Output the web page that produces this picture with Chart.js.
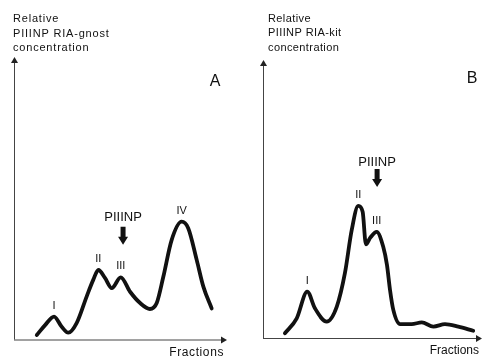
<!DOCTYPE html>
<html>
<head>
<meta charset="utf-8">
<script src="https://cdn.jsdelivr.net/npm/chart.js@4.4.0/dist/chart.umd.min.js"></script>
<style>
  html, body { margin: 0; padding: 0; background: #fff; }
  #wrap { position: relative; width: 483px; height: 356px; }
  .panel { position: absolute; top: 0; height: 356px; }
  #panelA { left: 0; width: 240px; }
  #panelB { left: 240px; width: 243px; }
</style>
</head>
<body>
<div id="wrap">
  <div class="panel" id="panelA"><canvas id="chartA"></canvas></div>
  <div class="panel" id="panelB"><canvas id="chartB"></canvas></div>
</div>
<script>
  // Panel A - RIA-gnost elution profile (x: fraction position 0-100, y: relative conc. 0-100)
  const fractionsA = [10.7, 14.6, 18.8, 22.4, 25.5, 29.4, 34.1, 37.2, 39.6, 42.7, 45.9, 50.1, 54.5, 59.2, 63.8, 67.0, 70.1, 74.0, 78.7, 81.8, 85.8, 88.9, 92.8];
  const concA      = [1.6, 5.1, 8.1, 4.5, 2.4, 5.8, 15.2, 21.1, 24.6, 21.8, 18.2, 22.0, 16.9, 12.9, 10.8, 12.9, 22.2, 35.2, 41.7, 39.4, 28.1, 18.7, 11.0];
  const peakNamesA = ['I', 'II', 'III', 'IV'];
  const peakIdxA   = [2, 8, 11, 18];
  const markerA    = { x: 51.2, y: 33.5 };

  // Panel B - RIA-kit elution profile
  const fractionsB = [10.0, 15.4, 20.2, 23.7, 29.1, 33.7, 37.4, 40.5, 43.5, 45.5, 47.0, 48.9, 51.9, 54.9, 56.6, 58.0, 59.5, 62.6, 67.9, 72.5, 77.8, 83.1, 89.2, 96.0];
  const concB      = [1.7, 7.1, 16.7, 10.7, 5.9, 11.3, 23.3, 38.8, 47.5, 45.4, 33.7, 36.0, 38.2, 32.8, 26.3, 17.3, 10.1, 5.0, 5.0, 5.6, 4.1, 5.0, 4.1, 2.6];
  const peakNamesB = ['I', 'II', 'III'];
  const peakIdxB   = [2, 8, 12];
  const markerB    = { x: 52.1, y: 54.3 };

  const titleA = ['Relative', 'PIIINP RIA-gnost', 'concentration'];
  const titleB = ['Relative', 'PIIINP RIA-kit', 'concentration'];

  const FONT = '"Liberation Sans", Arial, Helvetica, sans-serif';
  const INK = '#111';

  // draws axes with arrowheads, labels, peak numerals and the PIIINP marker
  const figureDecor = {
    id: 'figureDecor',
    afterDatasetsDraw(chart, args, opts) {
      const { ctx, chartArea: a, scales } = chart;
      const xs = scales.x, ys = scales.y;
      ctx.save();

      // axes
      ctx.strokeStyle = '#444';
      ctx.fillStyle = '#222';
      ctx.lineWidth = 1;
      ctx.beginPath();
      ctx.moveTo(a.left + 0.5, a.bottom);
      ctx.lineTo(a.left + 0.5, a.top + 4);
      ctx.moveTo(a.left, a.bottom + 0.5);
      ctx.lineTo(a.right - 4, a.bottom + 0.5);
      ctx.stroke();
      ctx.beginPath();
      ctx.moveTo(a.left + 0.5, a.top);
      ctx.lineTo(a.left - 3, a.top + 6);
      ctx.lineTo(a.left + 4, a.top + 6);
      ctx.closePath();
      ctx.fill();
      ctx.beginPath();
      ctx.moveTo(a.right, a.bottom + 0.5);
      ctx.lineTo(a.right - 6, a.bottom - 3);
      ctx.lineTo(a.right - 6, a.bottom + 4);
      ctx.closePath();
      ctx.fill();

      // y-axis title (three lines above the arrow)
      ctx.fillStyle = INK;
      ctx.font = '11px ' + FONT;
      ctx.letterSpacing = opts.titleSpacing + 'px';
      ctx.textAlign = 'left';
      ctx.textBaseline = 'alphabetic';
      opts.title.forEach((line, i) => {
        ctx.fillText(line, a.left + opts.titleDx, opts.titleY + i * 14.5);
      });

      // x-axis title
      ctx.font = '12px ' + FONT;
      ctx.letterSpacing = opts.fracSpacing + 'px';
      ctx.textAlign = 'right';
      ctx.fillText('Fractions', a.right - 3, a.bottom + 16);
      ctx.letterSpacing = '0px';

      // panel letter
      ctx.font = '16px ' + FONT;
      ctx.textAlign = 'center';
      ctx.textBaseline = 'middle';
      ctx.fillText(opts.letter, a.right - opts.letterDx, a.top + opts.letterDy);

      // peak numerals
      const data = chart.data.datasets[0].data;
      ctx.font = '11px ' + FONT;
      opts.peakNames.forEach((name, i) => {
        const p = data[opts.peakIdx[i]];
        ctx.fillText(name, xs.getPixelForValue(p.x), ys.getPixelForValue(p.y) - 11);
      });

      // PIIINP arrow marker
      const mx = xs.getPixelForValue(opts.marker.x);
      const my = ys.getPixelForValue(opts.marker.y);
      ctx.beginPath();
      ctx.moveTo(mx - 2.5, my - 18);
      ctx.lineTo(mx + 2.5, my - 18);
      ctx.lineTo(mx + 2.5, my - 8);
      ctx.lineTo(mx + 5, my - 8);
      ctx.lineTo(mx, my);
      ctx.lineTo(mx - 5, my - 8);
      ctx.lineTo(mx - 2.5, my - 8);
      ctx.closePath();
      ctx.fill();
      ctx.font = '13px ' + FONT;
      ctx.fillText('PIIINP', mx, my - opts.markerLabelDy);

      ctx.restore();
    }
  };

  function makePanel(canvasId, xVals, yVals, padding, decor) {
    const points = xVals.map((x, i) => ({ x: x, y: yVals[i] }));
    return new Chart(document.getElementById(canvasId), {
      type: 'line',
      data: {
        datasets: [{
          data: points,
          borderColor: INK,
          borderWidth: 3.8,
          pointRadius: 0,
          fill: false,
          cubicInterpolationMode: 'monotone',
          borderCapStyle: 'round',
          borderJoinStyle: 'round'
        }]
      },
      options: {
        responsive: true,
        maintainAspectRatio: false,
        animation: false,
        layout: { padding: padding },
        scales: {
          x: { type: 'linear', min: 0, max: 100, display: false },
          y: { type: 'linear', min: 0, max: 100, display: false }
        },
        plugins: {
          legend: { display: false },
          tooltip: { enabled: false },
          figureDecor: decor
        }
      },
      plugins: [figureDecor]
    });
  }

  makePanel('chartA', fractionsA, concA,
    { left: 14, right: 13, top: 57, bottom: 16.5 },
    { title: titleA, titleDx: -1, titleY: 22, titleSpacing: 0.8, fracSpacing: 0.6,
      letter: 'A', letterDx: 12, letterDy: 25,
      peakNames: peakNamesA, peakIdx: peakIdxA, marker: markerA, markerLabelDy: 27 });

  makePanel('chartB', fractionsB, concB,
    { left: 23, right: 1, top: 60, bottom: 18 },
    { title: titleB, titleDx: 5, titleY: 21.5, titleSpacing: 0.4, fracSpacing: 0,
      letter: 'B', letterDx: 10, letterDy: 19,
      peakNames: peakNamesB, peakIdx: peakIdxB, marker: markerB, markerLabelDy: 25 });
</script>
</body>
</html>
